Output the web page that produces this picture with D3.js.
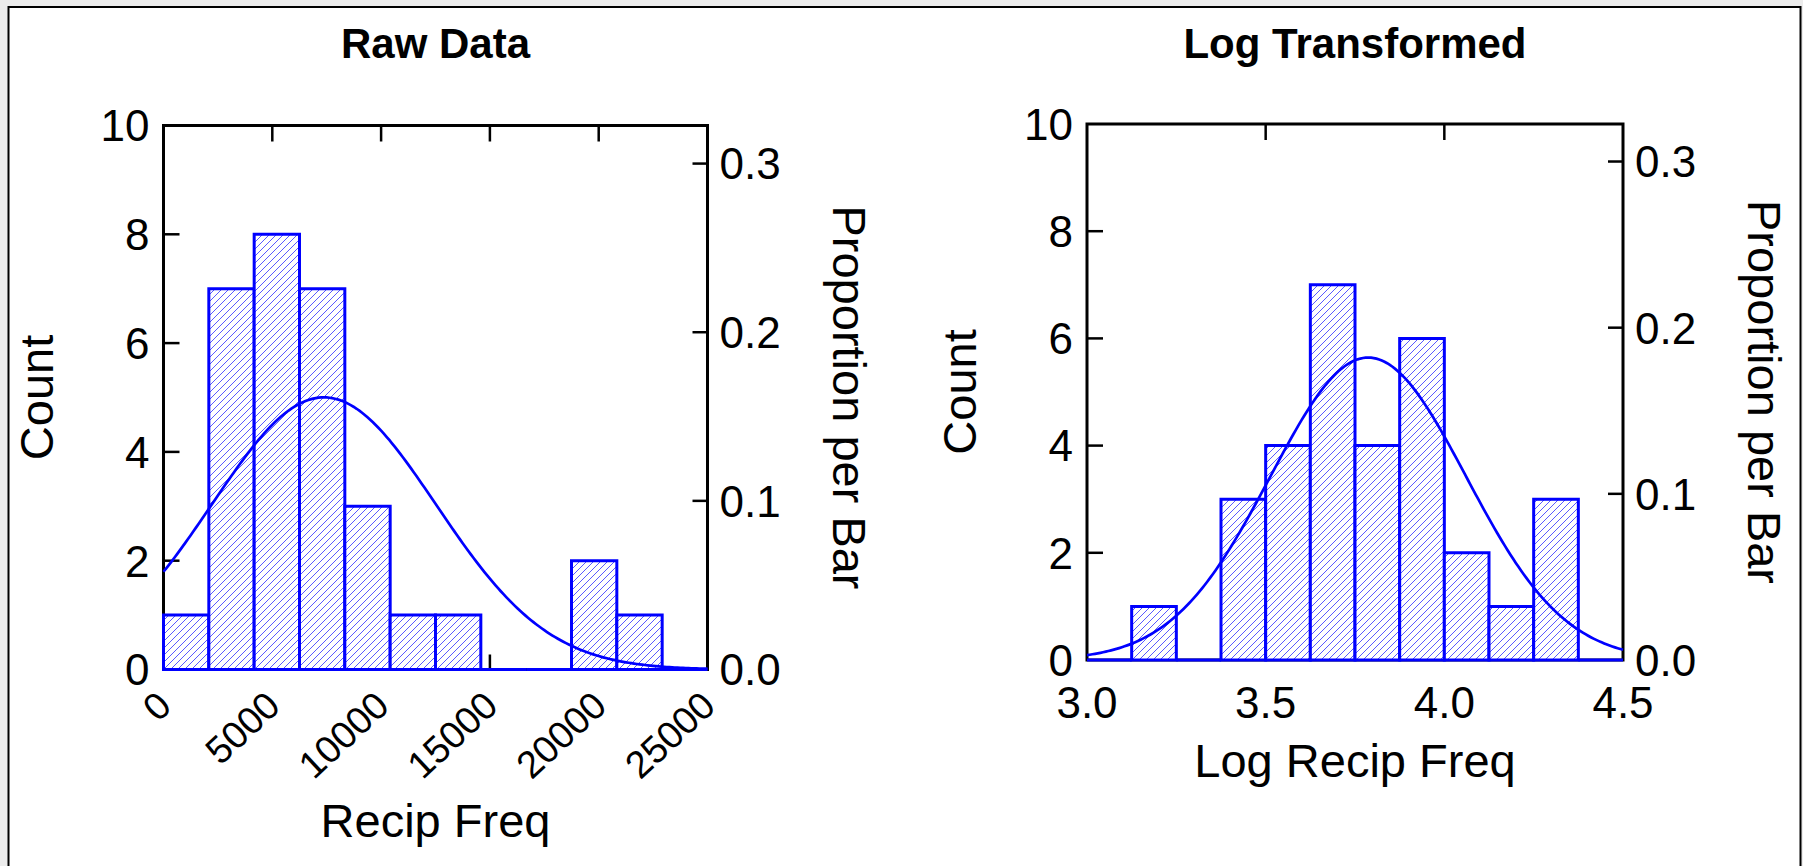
<!DOCTYPE html>
<html>
<head>
<meta charset="utf-8">
<script src="https://cdn.jsdelivr.net/npm/d3@7"></script>
<style>
  html, body { margin: 0; padding: 0; background: #ececec; }
  svg { display: block; font-family: "Liberation Sans", Arial, sans-serif; }
</style>
</head>
<body>
<script>
const width = 1803;
const height = 866;

// histogram data
const rawBinEdges = [0, 2083, 4167, 6250, 8333, 10417, 12500, 14583, 16667, 18750, 20833, 22917, 25000];
const rawCounts = [1, 7, 8, 7, 3, 1, 1, 0, 0, 2, 1, 0];
const logBinEdges = [3.0, 3.125, 3.25, 3.375, 3.5, 3.625, 3.75, 3.875, 4.0, 4.125, 4.25, 4.375, 4.5];
const logCounts = [0, 1, 0, 3, 4, 7, 4, 6, 2, 1, 3, 0];

// fitted normal curves (mean, sd)
const rawFit = { mean: 7370, sd: 5150 };
const logFit = { mean: 3.787, sd: 0.274 };

// ticks
const countTicks = [0, 2, 4, 6, 8, 10];
const propTicks = [0.0, 0.1, 0.2, 0.3];
const rawXTicks = [0, 5000, 10000, 15000, 20000, 25000];
const logXTicks = [3.0, 3.5, 4.0, 4.5];

const blue = "#0000ff";

const svg = d3
  .select("body")
  .append("svg")
  .attr("width", width)
  .attr("height", height);

// hatch fill
const defs = svg.append("defs");
defs
  .append("pattern")
  .attr("id", "hatch")
  .attr("patternUnits", "userSpaceOnUse")
  .attr("width", 7)
  .attr("height", 7)
  .call((p) => {
    p.append("rect").attr("width", 7).attr("height", 7).attr("fill", "white");
    p.append("path")
      .attr("d", "M-1,1 L1,-1 M0,7 L7,0 M6,8 L8,6")
      .attr("stroke", "#5a5aff")
      .attr("stroke-width", 1);
  });

// white panel with border
svg
  .append("rect")
  .attr("x", 8.5)
  .attr("y", 7)
  .attr("width", 1792)
  .attr("height", 880)
  .attr("fill", "white")
  .attr("stroke", "black")
  .attr("stroke-width", 2);

function drawPanel(o) {
  const n = d3.sum(o.counts);
  const binW = o.edges[1] - o.edges[0];
  const x = d3.scaleLinear().domain(o.xDomain).range([o.left, o.right]);
  const y = d3.scaleLinear().domain([0, 10]).range([o.bottom, o.top]);
  const yProp = (p) => y(p * n);

  const g = svg.append("g");

  // title
  g.append("text")
    .attr("x", (o.left + o.right) / 2)
    .attr("y", 58)
    .attr("text-anchor", "middle")
    .attr("font-size", 42)
    .attr("font-weight", "bold")
    .text(o.title);

  // frame
  g.append("rect")
    .attr("x", o.left)
    .attr("y", o.top)
    .attr("width", o.right - o.left)
    .attr("height", o.bottom - o.top)
    .attr("fill", "none")
    .attr("stroke", "black")
    .attr("stroke-width", 3);

  const tickLen = 15;
  const inner = o.xTicks.slice(1, -1);

  // x ticks on top and bottom, pointing in
  g.selectAll(".xt-top")
    .data(inner)
    .join("line")
    .attr("x1", (d) => x(d))
    .attr("x2", (d) => x(d))
    .attr("y1", o.top)
    .attr("y2", o.top + tickLen + 1)
    .attr("stroke", "black")
    .attr("stroke-width", 2.5);
  g.selectAll(".xt-bot")
    .data(inner)
    .join("line")
    .attr("x1", (d) => x(d))
    .attr("x2", (d) => x(d))
    .attr("y1", o.bottom)
    .attr("y2", o.bottom - tickLen)
    .attr("stroke", "black")
    .attr("stroke-width", 2.5);

  // left count ticks
  g.selectAll(".yt")
    .data(countTicks.slice(1, -1))
    .join("line")
    .attr("x1", o.left)
    .attr("x2", o.left + tickLen + 1)
    .attr("y1", (d) => y(d))
    .attr("y2", (d) => y(d))
    .attr("stroke", "black")
    .attr("stroke-width", 2.5);
  g.selectAll(".yl")
    .data(countTicks)
    .join("text")
    .attr("x", o.left - 14)
    .attr("y", (d) => y(d))
    .attr("dy", "0.36em")
    .attr("text-anchor", "end")
    .attr("font-size", 44)
    .text((d) => d);

  // right proportion ticks
  g.selectAll(".pt")
    .data(propTicks.slice(1))
    .join("line")
    .attr("x1", o.right - tickLen)
    .attr("x2", o.right)
    .attr("y1", (d) => yProp(d))
    .attr("y2", (d) => yProp(d))
    .attr("stroke", "black")
    .attr("stroke-width", 2.5);
  g.selectAll(".pl")
    .data(propTicks)
    .join("text")
    .attr("x", o.right + 12)
    .attr("y", (d) => yProp(d))
    .attr("dy", "0.36em")
    .attr("font-size", 44)
    .text((d) => d3.format(".1f")(d));

  // bars (as paths so empty bins still show their blue base)
  g.selectAll(".bar")
    .data(o.counts)
    .join("path")
    .attr("d", (d, i) => {
      const x0 = x(o.edges[i]);
      const x1 = x(o.edges[i + 1]);
      return `M${x0},${y(0)}V${y(d)}H${x1}V${y(0)}Z`;
    })
    .attr("fill", "url(#hatch)")
    .attr("stroke", blue)
    .attr("stroke-width", 3);

  // fitted normal curve, scaled to counts
  const pts = d3.range(0, 201).map((k) => {
    const v = o.xDomain[0] + ((o.xDomain[1] - o.xDomain[0]) * k) / 200;
    const z = (v - o.fit.mean) / o.fit.sd;
    return [v, (n * binW * Math.exp(-0.5 * z * z)) / (o.fit.sd * Math.sqrt(2 * Math.PI))];
  });
  g.append("path")
    .attr("d", d3.line().x((d) => x(d[0])).y((d) => y(d[1]))(pts))
    .attr("fill", "none")
    .attr("stroke", blue)
    .attr("stroke-width", 2.7);

  // x tick labels
  if (o.rotateLabels) {
    g.selectAll(".xl")
      .data(o.xTicks)
      .join("text")
      .attr("text-anchor", "end")
      .attr("font-size", 38)
      .attr("transform", (d) => `translate(${x(d) + 10},${o.bottom + 39}) rotate(-43)`)
      .text((d) => d);
  } else {
    g.selectAll(".xl")
      .data(o.xTicks)
      .join("text")
      .attr("x", (d) => x(d))
      .attr("y", o.bottom + 58)
      .attr("text-anchor", "middle")
      .attr("font-size", 44)
      .text((d) => d3.format(".1f")(d));
  }

  // axis titles
  g.append("text")
    .attr("x", (o.left + o.right) / 2)
    .attr("y", o.xTitleY)
    .attr("text-anchor", "middle")
    .attr("font-size", 47)
    .text(o.xTitle);
  g.append("text")
    .attr("transform", `translate(${o.left - 111},${(o.top + o.bottom) / 2}) rotate(-90)`)
    .attr("text-anchor", "middle")
    .attr("font-size", 47)
    .text("Count");
  g.append("text")
    .attr("transform", `translate(${o.right + 125},${(o.top + o.bottom) / 2}) rotate(90)`)
    .attr("text-anchor", "middle")
    .attr("font-size", 47)
    .text("Proportion per Bar");
}

drawPanel({
  title: "Raw Data",
  xTitle: "Recip Freq",
  edges: rawBinEdges,
  counts: rawCounts,
  fit: rawFit,
  xDomain: [0, 25000],
  xTicks: rawXTicks,
  rotateLabels: true,
  left: 163.5,
  right: 707.5,
  top: 125.5,
  bottom: 669.5,
  xTitleY: 837,
});

drawPanel({
  title: "Log Transformed",
  xTitle: "Log Recip Freq",
  edges: logBinEdges,
  counts: logCounts,
  fit: logFit,
  xDomain: [3.0, 4.5],
  xTicks: logXTicks,
  rotateLabels: false,
  left: 1087,
  right: 1623,
  top: 124,
  bottom: 660,
  xTitleY: 777,
});
</script>
</body>
</html>
